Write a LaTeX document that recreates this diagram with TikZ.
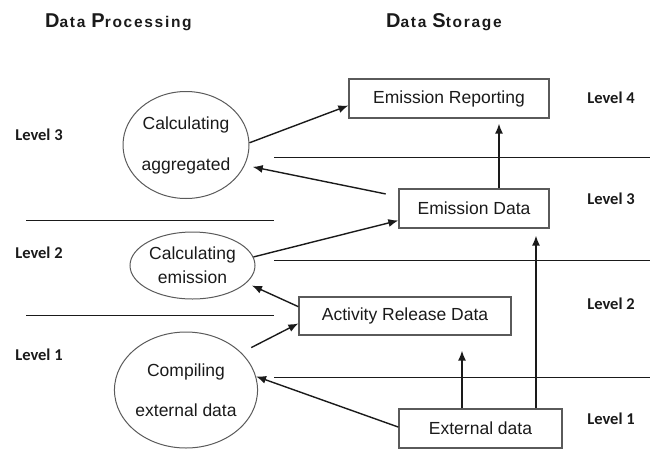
\documentclass[tikz,border=0pt]{standalone}
\usepackage{fontspec}
\setmainfont{Liberation Sans}
\newfontfamily\lvlfont{Carlito}
\newfontfamily\headfont{Liberation Sans}[LetterSpace=11]
\usepackage{tikz}
\usetikzlibrary{arrows.meta,positioning,calc,shapes.geometric}
\definecolor{ink}{HTML}{1A1A1A}
\definecolor{frame}{HTML}{5A5A5A}
\newcommand{\hd}[2]{{\fontsize{20}{20}\selectfont #1}#2}

\begin{document}
\begin{tikzpicture}[x=1pt,y=-1pt,
  box/.style={draw=frame,line width=1.3pt,minimum height=39pt,inner sep=0pt,
    font=\fontsize{17.5}{21}\selectfont,text=ink},
  proc/.style={ellipse,draw=frame,line width=1pt,inner sep=0pt,align=center,
    font=\fontsize{17.5}{24}\selectfont,text=ink},
  lvl/.style={font=\lvlfont\bfseries\fontsize{16.5}{18}\selectfont,text=ink,inner sep=0pt},
  head/.style={font=\headfont\bfseries\fontsize{15.5}{18}\selectfont,text=ink,inner sep=0pt,anchor=base west},
  sep/.style={draw=ink,line width=1pt},
  arr/.style={draw=ink,line width=1.4pt,-{Latex[length=10pt,width=8pt]}}]
\useasboundingbox (0,0) rectangle (650,450);
\node[head] (hproc) at (45,27) {\hd{D}{ata} \hd{P}{rocessing}};
\node[head] (hstor) at (386,27) {\hd{D}{ata} \hd{S}{torage}};
\draw[sep] (26,220) -- (274,220);
\draw[sep] (26,315) -- (274,315);
\draw[sep] (274,157) -- (650,157);
\draw[sep] (274,260) -- (650,260);
\draw[sep] (274,377) -- (650,377);
\node[lvl] (l3a) at (39,135) {Level 3};
\node[lvl] (l2a) at (39,253) {Level 2};
\node[lvl] (l1a) at (39,355) {Level 1};
\node[lvl] (l4b) at (611,98) {Level 4};
\node[lvl] (l3b) at (611,199) {Level 3};
\node[lvl] (l2b) at (611,304) {Level 2};
\node[lvl] (l1b) at (611,419) {Level 1};
\node[box,minimum width=200pt] (rep) at (449,98.5) {Emission Reporting};
\node[box,minimum width=150pt] (emd) at (474,208.5) {Emission Data};
\node[box,minimum width=212pt,minimum height=38pt] (act) at (405,316) {Activity Release Data};
\node[box,minimum width=163pt] (ext) at (480.5,428.5) {External data};
\node[proc,minimum width=126pt,minimum height=107pt] (agg) at (186,145) {Calculating\\[17pt]aggregated};
\node[proc,minimum width=125pt,minimum height=67pt] (emi) at (192.5,265.5) {Calculating\\emission};
\node[proc,minimum width=138pt,minimum height=116pt] (cmp) at (186,390) {Compiling\\[16pt]external data};
\draw[arr] (agg.2) -- (rep.184);
\draw[arr,shorten <=13pt,shorten >=8pt] (emd.171) -- (agg.-19);
\draw[arr] (emi.8) -- (emd.189);
\draw[arr,shorten >=6pt] (act.175) -- (emi.-18);
\draw[arr,shorten <=11pt] (cmp.34) -- (act.184);
\draw[arr] (ext.179) -- (cmp.11);
\draw[arr,shorten >=15pt] ($(ext.north)+(-18.5,0)$) -- ($(act.south)+(57,0)$);
\draw[arr,shorten >=7pt] ($(ext.north)+(55.5,0)$) -- ($(emd.south)+(62,0)$);
\draw[arr,shorten >=5pt] ($(emd.north)+(25,0)$) -- ($(rep.south)+(50,0)$);
\end{tikzpicture}
\end{document}
